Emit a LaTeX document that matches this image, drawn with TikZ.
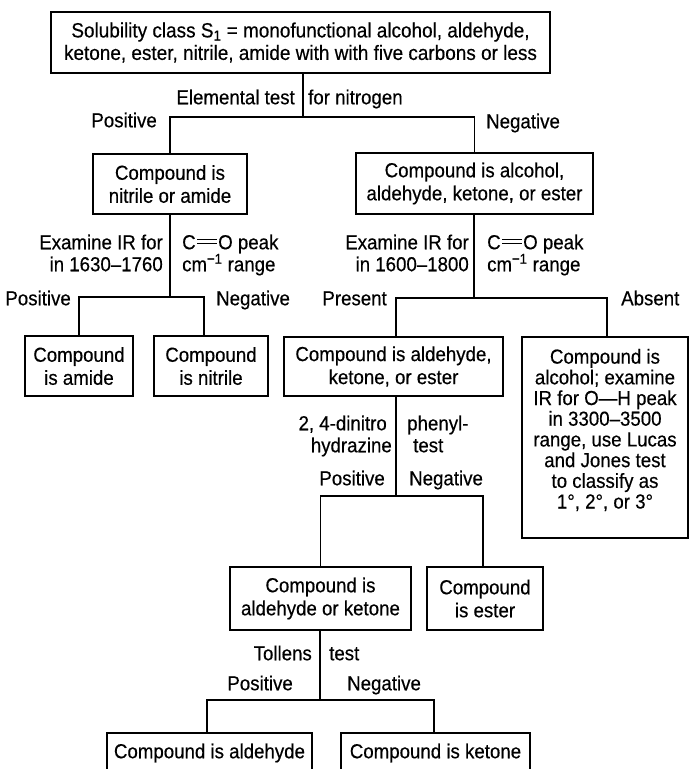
\documentclass[tikz,border=0pt]{standalone}
\usepackage{fontspec}
\setmainfont{Liberation Sans}[FakeStretch=0.92,FakeBold=0.4]
\newcommand\fs{\fontsize{20.3}{23}\selectfont}
\newcommand\dbond{\kern0.08em\rlap{\raisebox{0.25em}{\rule{0.95em}{0.065em}}}\raisebox{0.45em}{\rule{0.95em}{0.065em}}\kern0.08em}
\begin{document}
\begin{tikzpicture}[x=1pt,y=-1pt,
  box/.style={draw, line width=1.7pt, inner sep=0pt, align=center, font=\fs},
  lbl/.style={inner sep=0pt, font=\fs, text height=14.5pt, text depth=0pt},
  conn/.style={line width=1.3pt}]
\useasboundingbox (0,0) rectangle (689,769);
\clip (0,0) rectangle (689,769);

% boxes
\node[box, minimum width=499pt, minimum height=61pt, font=\fontsize{20.6}{22.5}\selectfont] (top) at (300.5,42.5)
  {Solubility class S\textsubscript{1} = monofunctional alcohol, aldehyde,\\ketone, ester, nitrile, amide with with five carbons or less};
\node[box, minimum width=154pt, minimum height=60pt] (nitamide) at (170,184) {Compound is\\nitrile or amide};
\node[box, minimum width=237pt, minimum height=61pt] (alcaldket) at (474.5,183.5) {Compound is alcohol,\\aldehyde, ketone, or ester};
\node[box, minimum width=108pt, minimum height=60pt] (amide) at (79,366) {Compound\\is amide};
\node[box, minimum width=114pt, minimum height=60pt] (nitrile) at (211,366) {Compound\\is nitrile};
\node[box, minimum width=219pt, minimum height=59pt] (aldketest) at (393.5,366.5) {Compound is aldehyde,\\ketone, or ester};
\node[box, minimum width=166pt, minimum height=201pt] (alcohol) at (605,437.5) {};
\node[align=center, inner sep=0pt, font=\fontsize{20.3}{20.7}\selectfont] (alctext) at (605,430)
  {Compound is\\alcohol; examine\\IR for O—H peak\\in 3300–3500\\range, use Lucas\\and Jones test\\to classify as\\1°, 2°, or 3°};
\node[box, minimum width=181pt, minimum height=63pt] (aldket) at (320.5,598.5) {Compound is\\aldehyde or ketone};
\node[box, minimum width=116pt, minimum height=63pt] (ester) at (485,598.5) {Compound\\is ester};
\node[box, minimum width=205pt, minimum height=40pt] (aldehyde) at (209.5,753) {Compound is aldehyde};
\node[box, minimum width=189pt, minimum height=40pt] (ketone) at (435.5,753) {Compound is ketone};

% junctions
\coordinate (j1) at (303,117);
\coordinate (j2) at (170,297);
\coordinate (j3) at (474,298);
\coordinate (j4) at (396,496);
\coordinate (j5) at (320,700);

% connectors
\draw[conn] (top.south -| j1) -- (j1);
\draw[conn] (nitamide.north) |- (j1) -| (alcaldket.north);
\draw[conn] (nitamide.south) -- (j2);
\draw[conn] (amide.north) |- (j2) -| ([xshift=-7pt]nitrile.north);
\draw[conn] (alcaldket.south -| j3) -- (j3);
\draw[conn] ([xshift=2.5pt]aldketest.north) |- (j3) -| ([xshift=2pt]alcohol.north);
\draw[conn] (aldketest.south -| j4) -- (j4);
\draw[conn] (aldket.north) |- (j4) -| ([xshift=-2pt]ester.north);
\draw[conn] (aldket.south -| j5) -- (j5);
\draw[conn] ([xshift=-2.5pt]aldehyde.north) |- (j5) -| ([xshift=-1.5pt]ketone.north);

% labels level 1
\node[lbl, anchor=east] (t1a) at (295,97) {Elemental test};
\node[lbl, anchor=west] (t1b) at (308,97) {for nitrogen};
\node[lbl, anchor=east] (p1) at (157,120) {Positive};
\node[lbl, anchor=west] (n1) at (486,121) {Negative};

% labels level 2 left
\node[lbl, anchor=east] (t2a) at (163,242) {Examine IR for};
\node[lbl, anchor=east] (t2b) at (163,264) {in 1630–1760};
\node[lbl, anchor=west] (t2c) at (182,242) {C\dbond O peak};
\node[lbl, anchor=west] (t2d) at (182,264) {cm\textsuperscript{−1} range};
\node[lbl, anchor=east] (p2) at (71,298) {Positive};
\node[lbl, anchor=west] (n2) at (216,298) {Negative};

% labels level 2 right
\node[lbl, anchor=east] (t3a) at (469,242) {Examine IR for};
\node[lbl, anchor=east] (t3b) at (469,264) {in 1600–1800};
\node[lbl, anchor=west] (t3c) at (487,242) {C\dbond O peak};
\node[lbl, anchor=west] (t3d) at (487,264) {cm\textsuperscript{−1} range};
\node[lbl, anchor=east] (p3) at (387,298) {Present};
\node[lbl, anchor=west] (n3) at (621,298) {Absent};

% labels level 3
\node[lbl, anchor=east] (t4a) at (387,423) {2, 4-dinitro};
\node[lbl, anchor=east] (t4b) at (392,445) {hydrazine};
\node[lbl, anchor=west] (t4c) at (407,423) {phenyl-};
\node[lbl, anchor=west] (t4d) at (413,445) {test};
\node[lbl, anchor=east] (p4) at (385,478) {Positive};
\node[lbl, anchor=west] (n4) at (409,478) {Negative};

% labels level 4
\node[lbl, anchor=east] (t5a) at (312,653) {Tollens};
\node[lbl, anchor=west] (t5b) at (329,653) {test};
\node[lbl, anchor=east] (p5) at (293,683) {Positive};
\node[lbl, anchor=west] (n5) at (347,683) {Negative};
\end{tikzpicture}
\end{document}
